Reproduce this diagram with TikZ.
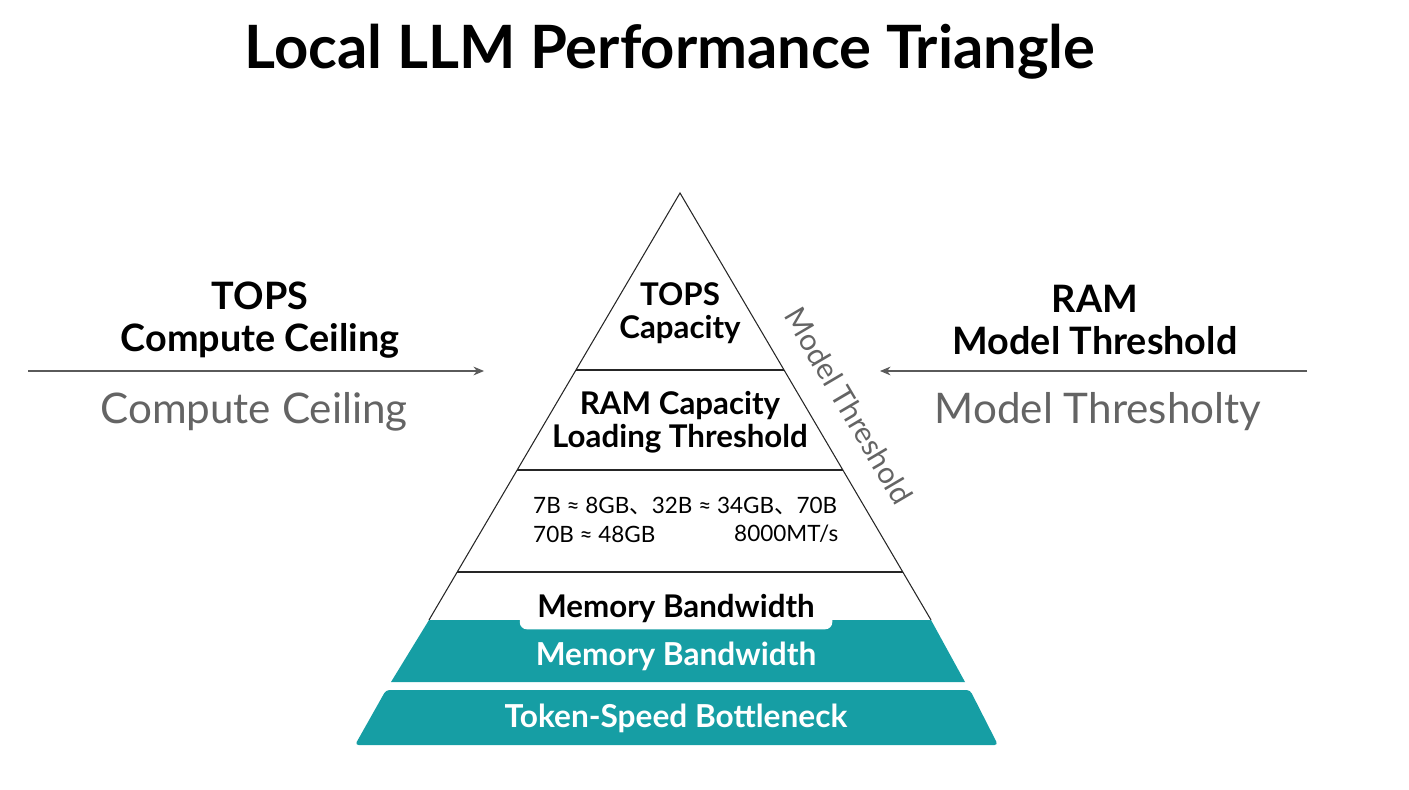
\documentclass[tikz,border=0pt]{standalone}
\usepackage{fontspec}
\setmainfont{Lato}
\newfontfamily\cjk{Noto Sans CJK SC}
\usetikzlibrary{arrows.meta}
\definecolor{teal1}{RGB}{22,158,164}
\definecolor{grayline}{RGB}{90,90,90}
\definecolor{graytext}{RGB}{100,100,100}
\begin{document}
\begin{tikzpicture}[
    x=0.02cm, y=-0.02cm,
    title/.style={font=\fontsize{34}{38}\selectfont\bfseries},
    sidelabel/.style={font=\fontsize{21.5}{26}\selectfont\bfseries, align=center},
    sidegray/.style={font=\fontsize{24}{28}\selectfont, text=graytext},
    layer/.style={font=\fontsize{17.8}{21}\selectfont\bfseries, align=center},
    band/.style={fill=teal1, draw=none},
    bandtext/.style={font=\fontsize{18}{21}\selectfont\bfseries, text=white},
    edge/.style={draw=black!85, line width=0.6pt},
    sidearrow/.style={-{Stealth[length=6pt,width=5pt]}, draw=grayline, line width=0.6pt}
]
    \useasboundingbox (0,0) rectangle (1409,790);

    % Title
    \node[title] (ttl) at (670,52) {Local LLM Performance Triangle};

    % Pyramid outline and layer lines
    \coordinate (apex) at (680,193);
    \coordinate (l1) at (576,370);  \coordinate (r1) at (784,370);
    \coordinate (l2) at (517,470);  \coordinate (r2) at (843,470);
    \coordinate (l3) at (457,572);  \coordinate (r3) at (903,572);
    \coordinate (l4) at (429,620);  \coordinate (r4) at (931,620);
    \draw[edge] (l4) -- (apex) -- (r4);
    \draw[edge] (l1) -- (r1);
    \draw[edge] (l2) -- (r2);
    \draw[edge] (l3) -- (r3);

    % Teal bands
    \fill[band] (429,620) -- (931,620) -- (965,682) -- (391,682) -- cycle;
    \fill[band, rounded corners=2pt] (386,690) -- (970,690) -- (998,745) -- (355,745) -- cycle;
    \node[fill=white, rounded corners=4pt, inner xsep=10pt, inner ysep=4pt,
          font=\fontsize{17.8}{21}\selectfont\bfseries] (mbw) at (676,608) {Memory Bandwidth};

    % Layer texts
    \node[layer] (tops) at (680,313) {TOPS\\[-2pt]Capacity};
    \node[layer] (ram) at (680,422) {RAM Capacity\\[-2pt]Loading Threshold};
    \node[font=\fontsize{12.8}{16}\selectfont, anchor=west] (sz1) at (527,506)
        {7B ≈ 8GB{\cjk 、}32B ≈ 34GB{\cjk 、}70B};
    \node[font=\fontsize{12.8}{16}\selectfont, anchor=west] (sz2) at (527,534) {70B ≈ 48GB};
    \node[font=\fontsize{12.8}{16}\selectfont, anchor=west] (mts) at (728,534) {8000MT/s};
    \node[bandtext] (mbw2) at (676,656) {Memory Bandwidth};
    \node[bandtext] (tsb) at (676,718) {Token-Speed Bottleneck};

    % Rotated edge label
    \node[font=\fontsize{17}{20}\selectfont, text=graytext, rotate=-59.5] (mthr) at (849,406) {Model Threshold};

    % Left side
    \node[sidelabel] (tl) at (260,320) {TOPS\\[-2pt]Compute Ceiling};
    \coordinate (la) at (28,371);
    \coordinate (lb) at (484,371);
    \draw[sidearrow] (la) -- (lb);
    \node[sidegray] (lg) at (254,412) {Compute Ceiling};

    % Right side
    \node[sidelabel] (tr) at (1095,320) {RAM\\[-2pt]Model Threshold};
    \coordinate (ra) at (1307,371);
    \coordinate (rb) at (880,371);
    \draw[sidearrow] (ra) -- (rb);
    \node[sidegray] (rg) at (1098,412) {Model Thresholty};
\end{tikzpicture}
\end{document}
